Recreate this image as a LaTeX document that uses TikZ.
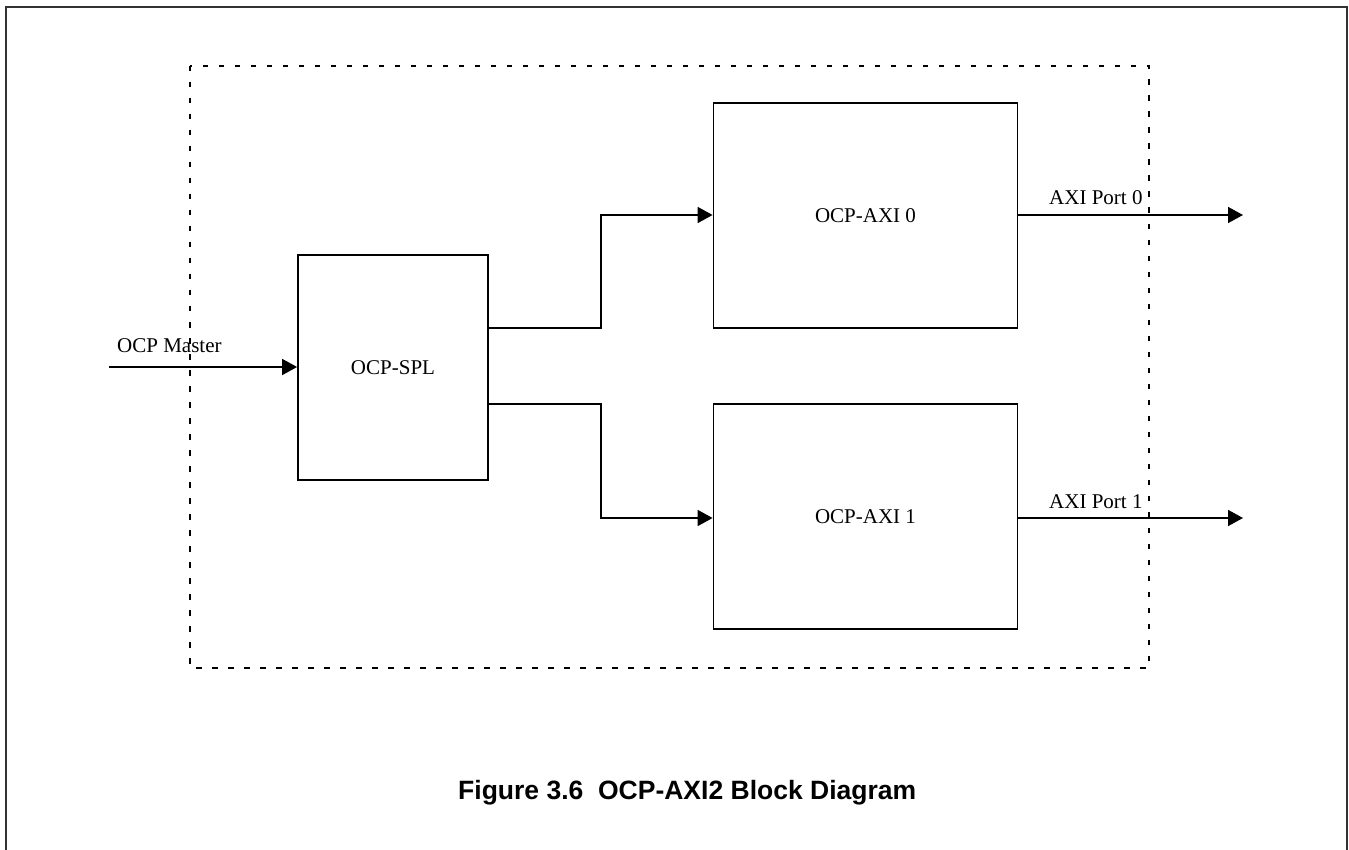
\documentclass[tikz,border=0pt]{standalone}
\usepackage{fontspec}
\setmainfont{Liberation Serif}
\setsansfont{Liberation Sans}
\usetikzlibrary{arrows.meta}
\begin{document}
\begin{tikzpicture}[x=1pt,y=-1pt,
  blk/.style={draw, line width=1.8pt, inner sep=0pt, font=\fontsize{21}{24}\selectfont},
  conn/.style={line width=1.7pt, -{Triangle[length=15pt,width=16pt]}},
  lbl/.style={font=\fontsize{21}{24}\selectfont, inner sep=0pt, anchor=base west},
  frame/.style={draw=black!80, line width=2pt}]
\useasboundingbox (0,0) rectangle (1349,850);
% outer frame (open at bottom)
\draw[frame] (6,850) -- (6,7) -- (1347,7) -- (1347,850);
% dashed enclosure
\draw[line width=1.6pt, dash pattern=on 5.5pt off 10.5pt] (190,66) rectangle (1149,668);
% blocks
\node[blk, minimum width=190pt, minimum height=225pt] (spl) at (393,367.5) {OCP-SPL};
\node[blk, minimum width=304pt, minimum height=225pt] (axi0) at (865.5,215.5) {OCP-AXI 0};
\node[blk, minimum width=304pt, minimum height=225pt] (axi1) at (865.5,516.5) {OCP-AXI 1};
% free ends
\coordinate (in) at (109,367);
\coordinate (out0) at (1243,215);
\coordinate (out1) at (1243,518);
% connectors
\draw[conn] (in) -- (spl.west |- in);
\draw[conn] (spl.east |- 0,328) -- (601,328) -- (601,215) -- (axi0.west |- 0,215);
\draw[conn] (spl.east |- 0,404) -- (601,404) -- (601,518) -- (axi1.west |- 0,518);
\draw[conn] (axi0.east |- out0) -- (out0);
\draw[conn] (axi1.east |- out1) -- (out1);
% labels
\node[lbl] (lm) at (117,352) {OCP Master};
\node[lbl] (l0) at (1049,205) {AXI Port 0};
\node[lbl] (l1) at (1049,508) {AXI Port 1};
% caption
\node[font=\sffamily\bfseries\fontsize{26.5}{30}\selectfont, inner sep=0pt, anchor=base west] (cap) at (458,799) {Figure 3.6\ \ OCP-AXI2 Block Diagram};
\end{tikzpicture}
\end{document}
